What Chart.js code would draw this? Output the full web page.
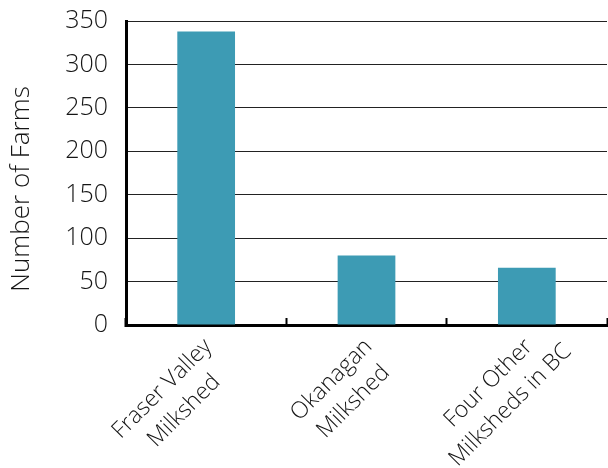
<!DOCTYPE html>
<html>
<head>
<meta charset="utf-8">
<script src="https://cdn.jsdelivr.net/npm/chart.js@4/dist/chart.umd.min.js"></script>
<style>
  html, body { margin: 0; padding: 0; background: #fff; }
  #wrap { width: 608px; height: 468px; position: relative; }
</style>
</head>
<body>
<div id="wrap"><canvas id="c" width="608" height="468"></canvas></div>
<script>
// Dairy farms by milkshed
const milksheds = [
  ['Fraser Valley', 'Milkshed'],
  ['Okanagan', 'Milkshed'],
  ['Four Other', 'Milksheds in BC']
];
const farmCounts = [338, 80, 66];
const yTicks = [0, 50, 100, 150, 200, 250, 300, 350];
const yTitle = 'Number of Farms';

const FONT = '"Open Sans", "DejaVu Sans", sans-serif';
const TEXT = '#151515';

// Category labels: rotated 45°, lines centred on one another,
// anchored at the end of the first line just under each category.
// The value-axis title is drawn here too, set a little below centre.
const slantedLabels = {
  id: 'slantedLabels',
  afterDraw(chart) {
    const xs = chart.scales.x;
    const area = chart.chartArea;
    const ctx = chart.ctx;
    const size = 23, lineH = 31;
    ctx.save();
    ctx.font = `300 ${size}px ${FONT}`;
    ctx.fillStyle = TEXT;
    ctx.textAlign = 'center';
    ctx.textBaseline = 'middle';
    milksheds.forEach((lines, i) => {
      const x = xs.getPixelForValue(i);
      const w1 = ctx.measureText(lines[0]).width;
      ctx.save();
      ctx.translate(x + 2, xs.top + 18);
      ctx.rotate(-Math.PI / 4);
      lines.forEach((t, k) => ctx.fillText(t, -w1 / 2, k * lineH));
      ctx.restore();
    });

    ctx.font = `300 26px ${FONT}`;
    ctx.translate(22, (area.top + area.bottom) / 2 + 16);
    ctx.rotate(-Math.PI / 2);
    ctx.fillText(yTitle, 0, 0);
    ctx.restore();
  }
};

new Chart(document.getElementById('c'), {
  type: 'bar',
  data: {
    labels: milksheds.map(l => l.join(' ')),
    datasets: [{
      data: farmCounts,
      backgroundColor: '#3d9bb4',
      borderWidth: 0,
      barPercentage: 0.36,
      categoryPercentage: 1.0
    }]
  },
  plugins: [slantedLabels],
  options: {
    responsive: false,
    animation: false,
    layout: { padding: { top: 21, right: 1, left: 0, bottom: 0 } },
    plugins: { legend: { display: false }, tooltip: { enabled: false } },
    scales: {
      x: {
        offset: true,
        grid: {
          offset: true,
          drawOnChartArea: false,
          drawTicks: true,
          tickLength: -7,
          tickWidth: 2,
          tickColor: '#000'
        },
        border: { display: true, color: '#000', width: 3 },
        ticks: { display: false },
        afterFit: s => { s.height = 143; }
      },
      y: {
        min: 0,
        max: 350,
        afterBuildTicks: s => { s.ticks = yTicks.map(v => ({ value: v })); },
        grid: { color: '#222', lineWidth: 1, drawTicks: false },
        border: { display: true, color: '#000', width: 3 },
        ticks: {
          color: TEXT,
          font: { family: FONT, size: 25, weight: 300 },
          padding: 18
        },
        afterFit: s => { s.width = 126; s.paddingTop = 0; s.paddingBottom = 0; }
      }
    }
  }
});
</script>
</body>
</html>
